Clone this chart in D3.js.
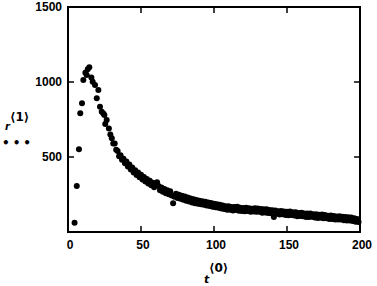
<!DOCTYPE html>
<html>
<head>
<meta charset="utf-8">
<script src="https://cdn.jsdelivr.net/npm/d3@7"></script>
<style>
  body { margin: 0; background: #fff; }
  svg { display: block; }
  .tick-label { font-family: "Liberation Sans", Arial, sans-serif; font-weight: bold; font-size: 12px; fill: #000; }
</style>
</head>
<body>
<svg id="chart" width="377" height="286"></svg>
<script>
// rising part near the origin
const earlyX = [4.5, 6, 7.5, 8.4, 9.6, 10.5, 11.9, 12.8, 13.5, 14.6, 16, 16.9, 18.5, 19.7, 20.8, 21.9, 23.1, 24.2, 24.9, 25.5, 26.5, 28, 29];
const earlyY = [62, 307, 551, 791, 858, 1013, 1062, 1047, 1085, 1098, 1030, 1002, 980, 891, 947, 835, 802, 790, 780, 720, 747, 690, 650];

// decaying tail, one point per unit from t = 30
const tailStart = 30;
const tailY = [
  625, 590, 590, 548, 540, 505, 512, 482, 488, 458,
  470, 436, 450, 416, 430, 396, 412, 380, 396, 365,
  382, 350, 367, 336, 353, 323, 341, 311, 329, 299,
  317, 331, 307, 278, 297, 268, 287, 259, 279, 251,
  271, 243, 191, 235, 255, 227, 248, 221, 242, 215,
  236, 209, 230, 203, 224, 197, 218, 192, 214, 188,
  209, 185, 205, 181, 201, 177, 197, 173, 193, 169,
  189, 165, 185, 161, 181, 157, 177, 153, 171, 149,
  172, 149, 166, 144, 167, 146, 168, 141, 161, 140,
  160, 138, 162, 140, 159, 135, 155, 137, 158, 135,
  157, 135, 153, 129, 152, 130, 152, 126, 146, 125,
  145, 100, 144, 121, 139, 116, 140, 118, 136, 114,
  135, 112, 136, 113, 132, 110, 131, 105, 127, 106,
  128, 105, 123, 100, 123, 100, 124, 101, 119, 97,
  118, 94, 115, 95, 116, 92, 114, 91, 109, 87,
  110, 87, 107, 83, 104, 83, 105, 84, 102, 79,
  100, 77, 99, 77, 97, 74, 91, 69, 86, 66
];

const xTicks = [0, 50, 100, 150, 200];
const yTicks = [500, 1000, 1500];

const points = earlyX.map((x, i) => ({ x: x, y: earlyY[i] }))
  .concat(tailY.map((y, i) => ({ x: tailStart + i, y: y })));

const svg = d3.select("#chart");
const plotL = 68, plotR = 360, plotT = 7, plotB = 232;

const xScale = d3.scaleLinear().domain([0, 200]).range([plotL, plotR]);
const yScale = d3.scaleLinear().domain([0, 1500]).range([plotB, plotT]);

// frame
svg.append("rect")
  .attr("x", plotL).attr("y", plotT)
  .attr("width", plotR - plotL).attr("height", plotB - plotT)
  .attr("fill", "none").attr("stroke", "#000").attr("stroke-width", 2);

// inward ticks on all four sides
const tickLen = 6;
xTicks.slice(1, -1).forEach(t => {
  svg.append("line").attr("x1", xScale(t)).attr("x2", xScale(t)).attr("y1", plotB).attr("y2", plotB - tickLen)
    .attr("stroke", "#000").attr("stroke-width", 1.5);
  svg.append("line").attr("x1", xScale(t)).attr("x2", xScale(t)).attr("y1", plotT).attr("y2", plotT + tickLen)
    .attr("stroke", "#000").attr("stroke-width", 1.5);
});
yTicks.slice(0, -1).forEach(t => {
  svg.append("line").attr("x1", plotL).attr("x2", plotL + tickLen).attr("y1", yScale(t)).attr("y2", yScale(t))
    .attr("stroke", "#000").attr("stroke-width", 1.5);
  svg.append("line").attr("x1", plotR).attr("x2", plotR - tickLen).attr("y1", yScale(t)).attr("y2", yScale(t))
    .attr("stroke", "#000").attr("stroke-width", 1.5);
});

// tick labels
svg.selectAll(".xl").data(xTicks).enter().append("text")
  .attr("class", "tick-label")
  .attr("x", d => xScale(d) + 2).attr("y", 249)
  .attr("text-anchor", "middle")
  .text(d => d);

svg.selectAll(".yl").data(yTicks).enter().append("text")
  .attr("class", "tick-label")
  .attr("x", 62).attr("y", d => yScale(d) + 4)
  .attr("text-anchor", "end")
  .text(d => d);

// data
svg.append("g").selectAll("circle").data(points).enter().append("circle")
  .attr("cx", d => xScale(d.x)).attr("cy", d => yScale(d.y))
  .attr("r", 3).attr("fill", "#000");

// axis labels
const yLab = svg.append("text")
  .attr("font-family", "DejaVu Sans, sans-serif").attr("font-weight", "bold").attr("fill", "#000");
yLab.append("tspan").attr("x", 5).attr("y", 130).attr("font-size", "10px").attr("font-style", "italic").text("r");
yLab.append("tspan").attr("x", 10).attr("y", 121).attr("font-size", "12px").text("\u27E81\u27E9");

svg.append("text")
  .attr("x", 2).attr("y", 147)
  .attr("font-family", "DejaVu Sans, sans-serif").attr("font-weight", "bold").attr("font-size", "12px")
  .attr("letter-spacing", "3px")
  .text("\u2022\u2022\u2022");

const xLab = svg.append("text")
  .attr("font-family", "DejaVu Sans, sans-serif").attr("font-weight", "bold").attr("fill", "#000");
xLab.append("tspan").attr("x", 204).attr("y", 283).attr("font-size", "11px").attr("font-style", "italic").text("t");
xLab.append("tspan").attr("x", 209).attr("y", 272).attr("font-size", "12px").text("\u27E80\u27E9");
</script>
</body>
</html>
